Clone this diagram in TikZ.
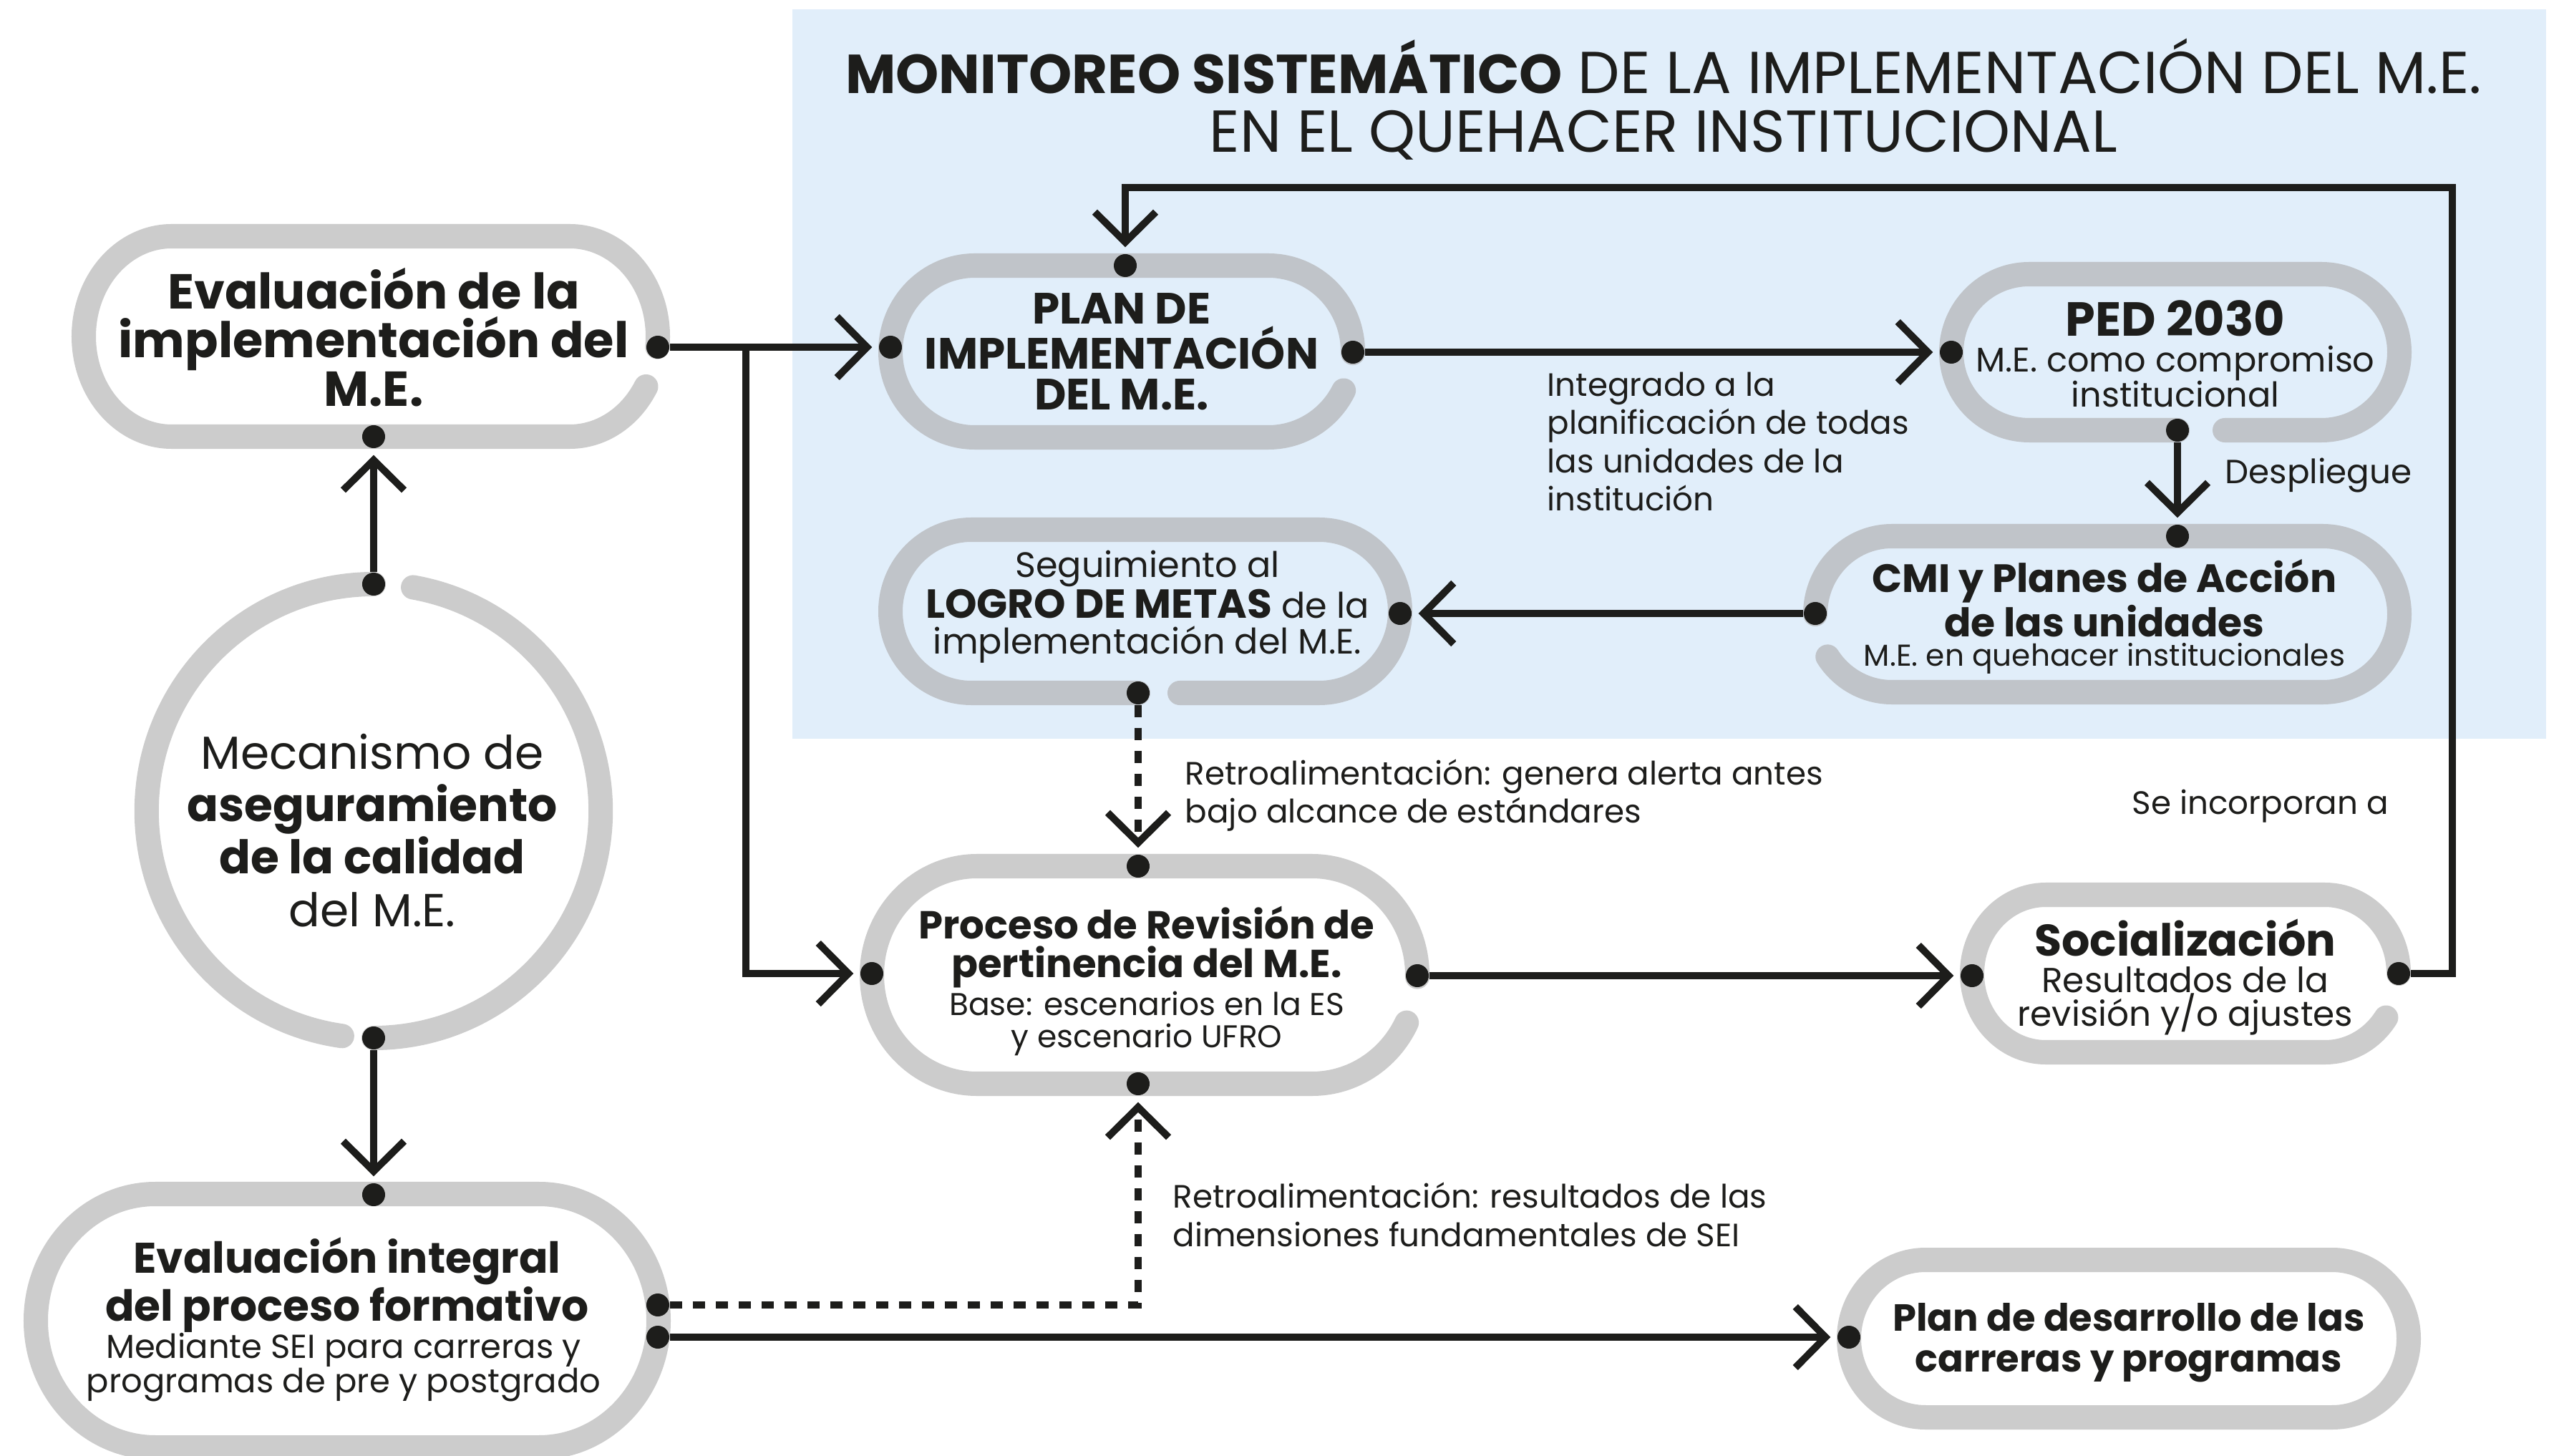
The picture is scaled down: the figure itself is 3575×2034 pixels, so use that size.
\documentclass[tikz,border=0pt]{standalone}
\usepackage{fontspec}
\setmainfont{Poppins}
\usetikzlibrary{arrows.meta}
\definecolor{ink}{RGB}{29,29,27}
\definecolor{bgblue}{RGB}{225,238,250}
\definecolor{grayw}{RGB}{204,204,204}
\definecolor{grayb}{RGB}{192,196,201}
\newcommand\fsz[2]{\fontsize{#1pt}{#2pt}\selectfont}
% gap on the right cap: color,cx,cy,hw,hh,rx,startangle,endangle
\newcommand\stadR[8]{%
  \draw[stad,#1] ({#2+#4-#6+#6*cos(#7)},{-#3+#5*sin(#7)})
    arc[start angle=#7,end angle=90,x radius=#6*0.01cm,y radius=#5*0.01cm]
    -- ({#2-#4+#6},{-#3+#5})
    arc[start angle=90,end angle=270,x radius=#6*0.01cm,y radius=#5*0.01cm]
    -- ({#2+#4-#6},{-#3-#5})
    arc[start angle=270,end angle=#8,x radius=#6*0.01cm,y radius=#5*0.01cm];}
% gap on the bottom side: color,cx,cy,hw,hh,rx,xdot,xgap
\newcommand\stadB[8]{%
  \draw[stad,#1] (#8,{-#3-#5}) -- ({#2+#4-#6},{-#3-#5})
    arc[start angle=270,end angle=450,x radius=#6*0.01cm,y radius=#5*0.01cm]
    -- ({#2-#4+#6},{-#3+#5})
    arc[start angle=90,end angle=270,x radius=#6*0.01cm,y radius=#5*0.01cm]
    -- (#7,{-#3-#5});}
% gap on the left cap: color,cx,cy,hw,hh,rx,startangle
\newcommand\stadL[7]{%
  \draw[stad,#1] ({#2-#4+#6+#6*cos(#7)},{-#3+#5*sin(#7)})
    arc[start angle=#7,end angle=270,x radius=#6*0.01cm,y radius=#5*0.01cm]
    -- ({#2+#4-#6},{-#3-#5})
    arc[start angle=270,end angle=450,x radius=#6*0.01cm,y radius=#5*0.01cm]
    -- ({#2-#4+#6},{-#3+#5})
    arc[start angle=90,end angle=180,x radius=#6*0.01cm,y radius=#5*0.01cm];}
% closed: color,cx,cy,hw,hh,rx
\newcommand\stadC[6]{%
  \draw[stad,#1] ({#2+#4-#6},{-#3-#5})
    arc[start angle=270,end angle=450,x radius=#6*0.01cm,y radius=#5*0.01cm]
    -- ({#2-#4+#6},{-#3+#5})
    arc[start angle=90,end angle=270,x radius=#6*0.01cm,y radius=#5*0.01cm]
    -- cycle;}
\begin{document}
\begin{tikzpicture}[x=0.01cm,y=0.01cm,
  stad/.style={line width=0.34cm,line cap=round},
  dot/.style={circle,fill=ink,inner sep=0pt,minimum size=0.32cm},
  conn/.style={draw=ink,line width=0.1cm},
  arr/.style={-{Straight Barb[length=0.42cm,width=0.85cm]},shorten >=0.09cm},
  dconn/.style={conn,dash pattern=on 0.17cm off 0.15cm},
  txt/.style={text=ink,align=center,inner sep=0pt},
  lbl/.style={text=ink,align=left,inner sep=0pt,anchor=west,font=\fsz{12.85}{15.2}}]
\useasboundingbox (0,0) rectangle (3575,-2034);
\fill[white] (0,0) rectangle (3575,-2034);
\fill[bgblue] (1107,-13) rectangle (3557,-1032);

% stadium outlines
\stadR{grayw}{518}{470}{401}{140}{123}{-6}{330}
\stadR{grayb}{1567}{491}{323}{120}{118}{-1}{333}
\stadR{grayw}{1599}{1362}{381}{152}{147}{-1}{334}
\stadR{grayw}{3053}{1360}{298}{110}{103}{0}{326}
\stadB{grayb}{3039}{492}{313}{109}{109}{3042}{3108}
\stadB{grayb}{1600}{854}{356}{114}{113}{1590}{1648}
\stadL{grayb}{2944}{858}{408}{109}{107}{213}
\stadC{grayw}{485}{1845}{435}{177}{167}
\stadC{grayw}{2974}{1870}{391}{110}{107}
% circle
\draw[stad,grayw] (522,-816) arc[start angle=90,end angle=262,radius=3.17cm];
\draw[stad,grayw] (522,-1450) arc[start angle=270,end angle=440,radius=3.17cm];

% dots
\node[dot] (d1r) at (919,-485) {};
\node[dot] (d1b) at (522,-610) {};
\node[dot] (dct) at (522,-816) {};
\node[dot] (dcb) at (522,-1450) {};
\node[dot] (dpl) at (1244,-485) {};
\node[dot] (dpr) at (1890,-492) {};
\node[dot] (dpt) at (1572,-371) {};
\node[dot] (dedl) at (2726,-492) {};
\node[dot] (dedb) at (3042,-601) {};
\node[dot] (dcmt) at (3042,-749) {};
\node[dot] (dcml) at (2536,-857) {};
\node[dot] (dsr) at (1956,-857) {};
\node[dot] (dsb) at (1590,-968) {};
\node[dot] (dprt) at (1590,-1210) {};
\node[dot] (dprb) at (1590,-1514) {};
\node[dot] (dprl) at (1218,-1360) {};
\node[dot] (dprr) at (1980,-1363) {};
\node[dot] (dsol) at (2755,-1363) {};
\node[dot] (dsor) at (3351,-1360) {};
\node[dot] (dit) at (522,-1669) {};
\node[dot] (dir1) at (919,-1823) {};
\node[dot] (dir2) at (919,-1868) {};
\node[dot] (dpdl) at (2583,-1868) {};

% connectors
\coordinate (jn) at (1042,-485);
\coordinate (loopc) at (3426,-262);
\draw[conn,arr] (dct) -- (d1b);
\draw[conn,arr] (dcb) -- (dit);
\draw[conn,arr] (d1r) -- (dpl);
\draw[conn,arr] (jn) |- (dprl);
\draw[conn,arr] (dpr) -- (dedl);
\draw[conn,arr] (dedb) -- (dcmt);
\draw[conn,arr] (dcml) -- (dsr);
\draw[dconn,arr] (dsb) -- (dprt);
\draw[dconn,arr] (dir1) -| (dprb);
\draw[conn,arr] (dir2) -- (dpdl);
\draw[conn,arr] (dprr) -- (dsol);
\draw[conn,arr] (dsor) -| (loopc) -| (dpt);

% texts
\node[txt,font=\fsz{23.5}{23.3}] (title) at (2324,-139) {{\fsz{21.8}{23.3}\bfseries MONITOREO SISTEMÁTICO} DE LA IMPLEMENTACIÓN DEL M.E.\\EN EL QUEHACER INSTITUCIONAL};
\node[txt,font=\bfseries\fsz{19.5}{19.3}] (evimp) at (522,-471) {Evaluación de la\\implementación del\\M.E.};
\node[txt,font=\bfseries\fsz{17.4}{16.2}] (plan) at (1567,-491) {PLAN DE\\IMPLEMENTACIÓN\\DEL M.E.};
\node[txt,font=\bfseries\fsz{19}{19}] (ped) at (3039,-445) {PED 2030};
\node[txt,font=\fsz{13.6}{14.2}] (pedsub) at (3039,-526) {M.E. como compromiso\\institucional};
\node[txt,font=\bfseries\fsz{15.7}{16.5}] (cmi) at (2940,-836) {CMI y Planes de Acción\\de las unidades};
\node[txt,font=\fsz{12}{13}] (cmisub) at (2940,-920) {M.E. en quehacer institucionales};
\node[txt,font=\fsz{14}{14.2}] (seg) at (1603,-848) {Seguimiento al\\{\fsz{16.1}{14.2}\bfseries LOGRO DE METAS} de la\\implementación del M.E.};
\node[txt,font=\bfseries\fsz{15.5}{15.6}] (proc) at (1602,-1323) {Proceso de Revisión de\\pertinencia del M.E.};
\node[txt,font=\fsz{12.5}{13}] (procsub) at (1602,-1430) {Base: escenarios en la ES\\y escenario UFRO};
\node[txt,font=\bfseries\fsz{17.6}{17.8}] (soc) at (3053,-1310) {Socialización};
\node[txt,font=\fsz{13.8}{13.4}] (socsub) at (3053,-1398) {Resultados de la\\revisión y/o ajustes};
\node[txt,font=\bfseries\fsz{17}{17.6}] (evint) at (485,-1795) {Evaluación integral\\del proceso formativo};
\node[txt,font=\fsz{13.2}{13.7}] (evintsub) at (480,-1910) {Mediante SEI para carreras y\\programas de pre y postgrado};
\node[txt,font=\bfseries\fsz{15}{16.2}] (pdes) at (2974,-1876) {Plan de desarrollo de las\\carreras y programas};
\node[txt,font=\fsz{18.4}{20.8}] (mec) at (520,-1160) {Mecanismo de\\{\bfseries aseguramiento}\\{\bfseries de la calidad}\\del M.E.};
\node[lbl] (integ) at (2161,-617) {Integrado a la\\planificación de todas\\las unidades de la\\institución};
\node[lbl,font=\fsz{13.3}{15}] (desp) at (3108,-664) {Despliegue};
\node[lbl] (retro1) at (1655,-1111) {Retroalimentación: genera alerta antes\\bajo alcance de estándares};
\node[lbl] (retro2) at (1638,-1697) {Retroalimentación: resultados de las\\dimensiones fundamentales de SEI};
\node[lbl] (inc) at (2978,-1126) {Se incorporan a};
\end{tikzpicture}
\end{document}
